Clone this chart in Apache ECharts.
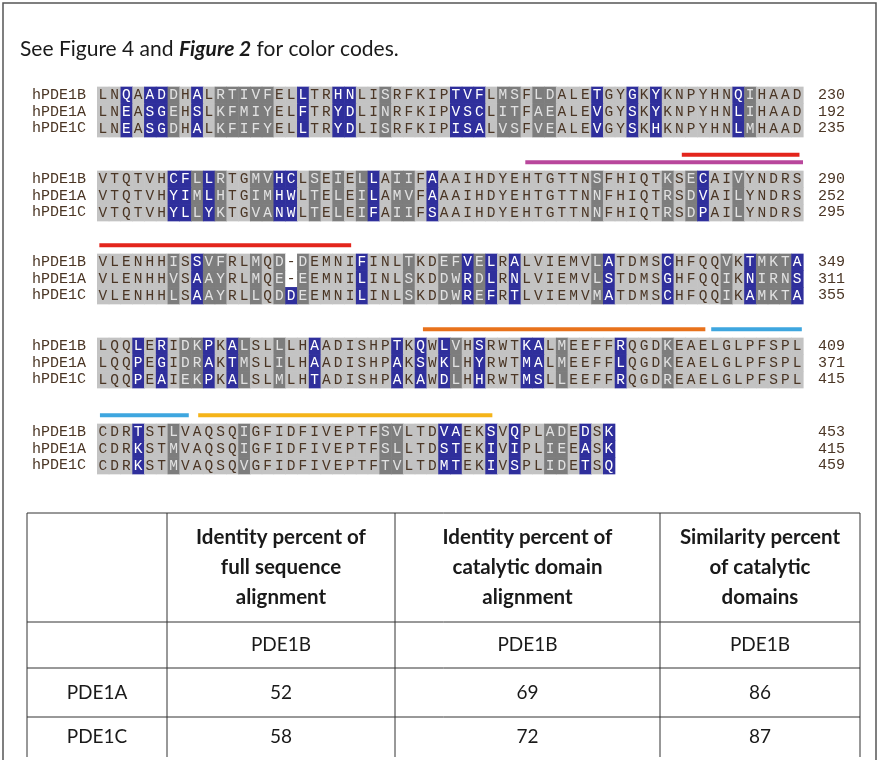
<!DOCTYPE html>
<html><head><meta charset="utf-8">
<script src="https://cdn.jsdelivr.net/npm/echarts@6/dist/echarts.min.js"></script>
<style>html,body{margin:0;padding:0;background:#fff}#c{width:878px;height:760px}</style>
</head><body><div id="c"></div>
<script>
// ---------------- DATA ----------------
const seqNames = ['hPDE1B', 'hPDE1A', 'hPDE1C'];
const hPDE1B = [
  'LNQAADDHALRTIVFELLTRHNLISRFKIPTVFLMSFLDALETGYGKYKNPYHNQIHAAD',
  'VTQTVHCFLLRTGMVHCLSEIELLAIIFAAAIHDYEHTGTTNSFHIQTKSECAIVYNDRS',
  'VLENHHISSVFRLMQD-DEMNIFINLTKDEFVELRALVIEMVLATDMSCHFQQVKTMKTA',
  'LQQLERIDKPKALSLLLHAADISHPTKQWLVHSRWTKALMEEFFRQGDKEAELGLPFSPL',
  'CDRTSTLVAQSQIGFIDFIVEPTFSVLTDVAEKSVQPLADEDSK'
];
const hPDE1A = [
  'LNEASGEHSLKFMIYELFTRYDLINRFKIPVSCLITFAEALEVGYSKYKNPYHNLIHAAD',
  'VTQTVHYIMLHTGIMHWLTELEILAMVFAAAIHDYEHTGTTNNFHIQTRSDVAILYNDRS',
  'VLENHHVSAAYRLMQE-EEMNILINLSKDDWRDLRNLVIEMVLSTDMSGHFQQIKNIRNS',
  'LQQPEGIDRAKTMSLILHAADISHPAKSWKLHYRWTMALMEEFFLQGDKEAELGLPFSPL',
  'CDRKSTMVAQSQIGFIDFIVEPTFSLLTDSTEKIVIPLIEEASK'
];
const hPDE1C = [
  'LNEASGDHALKFIFYELLTRYDLISRFKIPISALVSFVEALEVGYSKHKNPYHNLMHAAD',
  'VTQTVHYLLYKTGVANWLTELEIFAIIFSAAIHDYEHTGTTNNFHIQTRSDPAILYNDRS',
  'VLENHHLSAAYRLLQDDEEMNILINLSKDDWREFRTLVIEMVMATDMSCHFQQIKAMKTA',
  'LQQPEAIEKPKALSLMLHTADISHPAKAWDLHHRWTMSLLEEFFRQGDREAELGLPFSPL',
  'CDRKSTMVAQSQVGFIDFIVEPTFTVLTDMTEKIVSPLIDETSQ'
];
const endNumbers1B = [230, 290, 349, 409, 453];
const endNumbers1A = [192, 252, 311, 371, 415];
const endNumbers1C = [235, 295, 355, 415, 459];
// per column shading class: l = identical, d = similar, b = different
const columnShading = [
  'llblbbdlbl' + 'dddddllbll' + 'bblldlllll' + 'bbblddlddl' + 'llbllblbll' + 'llllbdllll',
  'llllllbbdb' + 'dllddbbldl' + 'dldblddlbl' + 'llllllllll' + 'lldllllldl' + 'dblldlllll',
  'lllllldlbd' + 'dlldldbdll' + 'llbllldlld' + 'dbdblbllll' + 'lldbllllbl' + 'llldlbdddb',
  'lllblblddb' + 'lbdlldllbl' + 'lllllblblb' + 'dlblllbbld' + 'llllbllldl' + 'llllllllll',
  'lllblldlll' + 'lldlllllll' + 'llllddlllb' + 'bllblblldd' + 'lblb'
];
// domain annotation bars (block index, start column, end column, stacking level, region key)
const annotationBlock = [1, 1, 2, 3, 3, 4, 4];
const annotationFrom  = [49.7, 36.4, 0.2, 27.7, 52.2, 0.25, 8.6];
const annotationTo    = [59.7, 60.0, 21.6, 51.7, 59.9, 7.8, 33.6];
const annotationLevel = [1, 0, 0, 0, 0, 0, 0];
const annotationKey   = ['red', 'magenta', 'red', 'orange', 'cyan', 'cyan', 'yellow'];

const titleParts = ['See Figure 4 and ', 'Figure 2', ' for color codes.'];
const tableHeader = ['', 'Identity percent of\nfull sequence\nalignment', 'Identity percent of\ncatalytic domain\nalignment', 'Similarity percent\nof catalytic\ndomains'];
const tableReference = ['', 'PDE1B', 'PDE1B', 'PDE1B'];
const tableRowNames = ['PDE1A', 'PDE1C'];
const identityFull = [52, 58];
const identityCatalytic = [69, 72];
const similarityCatalytic = [86, 87];

// ---------------- STYLE / LAYOUT ----------------
const shadeFill = { l: '#c3c3c3', d: '#7d7d7d', b: '#2f2f9c', w: '#ffffff' };
const shadeText = { l: '#4a3524', d: '#e2e2e2', b: '#ffffff', w: '#4a3524' };
const barColor = { red: '#e3251c', magenta: '#b9479c', orange: '#e8721c', cyan: '#3ea6df', yellow: '#f5b419' };
const ROW_H = 16.7;
const GRID_L = 97, GRID_R = 803;
const blockRow1 = [95, 179, 262, 346, 432];
const seqFont = 'Liberation Mono';
const seqFontCss = '14.5px "' + seqFont + '"';

const grids = [], xAxes = [], yAxes = [], series = [];
const allSeqs = [hPDE1B, hPDE1A, hPDE1C];
const allEnds = [endNumbers1B, endNumbers1A, endNumbers1C];

for (let b = 0; b < 5; b++) {
  grids.push({ left: GRID_L, width: GRID_R - GRID_L, top: blockRow1[b] - ROW_H / 2 - 2 * ROW_H, height: 5 * ROW_H });
  xAxes.push({ gridIndex: b, type: 'value', min: 0, max: 60, show: false });
  yAxes.push({ gridIndex: b, type: 'value', min: -2, max: 3, inverse: true, show: false });
  const catCommon = {
    gridIndex: b, type: 'category', inverse: true,
    axisLine: { show: false }, axisTick: { show: false }, splitLine: { show: false }
  };
  yAxes.push(Object.assign({}, catCommon, {
    position: 'left',
    data: ['_a', '_b'].concat(seqNames),
    axisLabel: { interval: 0, margin: 11, fontFamily: seqFont, fontSize: 15, color: '#4a3524',
      formatter: v => v.charAt(0) === '_' ? '' : v }
  }));
  yAxes.push(Object.assign({}, catCommon, {
    position: 'right',
    data: ['_a', '_b'].concat(allEnds.map(e => String(e[b]))),
    axisLabel: { interval: 0, margin: 15, align: 'left', fontFamily: seqFont, fontSize: 15, color: '#4a3524',
      formatter: v => v.charAt(0) === '_' ? '' : v }
  }));

  const cells = [], meta = [];
  for (let r = 0; r < 3; r++) {
    const s = allSeqs[r][b];
    for (let c = 0; c < s.length; c++) {
      const ch = s[c];
      cells.push([c, r]);
      meta.push({ ch: ch, cls: ch === '-' ? 'w' : columnShading[b][c] });
    }
  }
  series.push({
    type: 'custom', xAxisIndex: b, yAxisIndex: b * 3, data: cells, silent: true, animation: false, clip: false,
    renderItem: (params, api) => {
      const c = api.value(0), r = api.value(1);
      const m = meta[params.dataIndex];
      const p0 = api.coord([c, r]), p1 = api.coord([c + 1, r + 1]);
      return {
        type: 'group', children: [
          { type: 'rect', shape: { x: p0[0], y: p0[1], width: p1[0] - p0[0] + 0.6, height: p1[1] - p0[1] + 0.6 },
            style: { fill: shadeFill[m.cls] } },
          { type: 'text', style: { text: m.ch, x: (p0[0] + p1[0]) / 2, y: (p0[1] + p1[1]) / 2 + 0.5,
            align: 'center', verticalAlign: 'middle', fill: shadeText[m.cls], font: seqFontCss } }
        ]
      };
    }
  });

  const ann = [];
  annotationBlock.forEach((blk, i) => { if (blk === b) ann.push([annotationFrom[i], annotationTo[i], annotationLevel[i], i]); });
  if (ann.length) {
    series.push({
      type: 'custom', xAxisIndex: b, yAxisIndex: b * 3, data: ann, silent: true, animation: false, clip: false,
      renderItem: (params, api) => {
        const lvl = api.value(2);
        const yv = lvl === 0 ? -0.5 : -0.95;
        const a = api.coord([api.value(0), yv]), z = api.coord([api.value(1), yv]);
        return { type: 'rect', shape: { x: a[0], y: a[1] - 2, width: z[0] - a[0], height: 4 },
          style: { fill: barColor[annotationKey[api.value(3)]] } };
      }
    });
  }
}

// table graphics
const tFont = 'Lato';
const colX = [27, 167, 395, 660, 860];
const rowY = [513, 622, 668, 717, 757];
const graphics = [];
graphics.push({ type: 'polyline', shape: { points: [[3, 760], [3, 3], [876, 3], [876, 760]] },
  style: { stroke: '#555', lineWidth: 1.5, fill: null }, silent: true });
rowY.slice(0, 4).forEach(y => graphics.push({ type: 'line', shape: { x1: colX[0], y1: y, x2: colX[4], y2: y },
  style: { stroke: '#333', lineWidth: 1 } }));
colX.forEach(x => graphics.push({ type: 'line', shape: { x1: x, y1: rowY[0], x2: x, y2: rowY[4] },
  style: { stroke: '#333', lineWidth: 1 } }));
const cellText = (txt, ci, ri, bold) => {
  graphics.push({ type: 'text', style: {
    text: txt, x: (colX[ci] + colX[ci + 1]) / 2, y: (rowY[ri] + rowY[ri + 1]) / 2,
    align: 'center', verticalAlign: 'middle', fill: '#1a1a1a', lineHeight: 30,
    font: (bold ? 'bold 20.5px ' : '19px ') + '"' + tFont + '"' } });
};
tableHeader.forEach((t, i) => cellText(t, i, 0, true));
tableReference.forEach((t, i) => cellText(t, i, 1, false));
tableRowNames.forEach((n, j) => {
  cellText(n, 0, 2 + j, false);
  cellText(String(identityFull[j]), 1, 2 + j, false);
  cellText(String(identityCatalytic[j]), 2, 2 + j, false);
  cellText(String(similarityCatalytic[j]), 3, 2 + j, false);
});

const chart = echarts.init(document.getElementById('c'), null, { renderer: 'canvas' });
chart.setOption({
  animation: false,
  backgroundColor: '#fff',
  title: {
    left: 15, top: 34,
    text: '{a|' + titleParts[0] + '}{b|' + titleParts[1] + '}{a|' + titleParts[2] + '}',
    textStyle: { fontWeight: 'normal', rich: {
      a: { fontFamily: tFont, fontSize: 21, fontWeight: 'normal', color: '#1a1a1a' },
      b: { fontFamily: tFont, fontSize: 21, color: '#1a1a1a', fontWeight: 'bold', fontStyle: 'italic' }
    } }
  },
  grid: grids, xAxis: xAxes, yAxis: yAxes, series: series, graphic: graphics
});
</script></body></html>
